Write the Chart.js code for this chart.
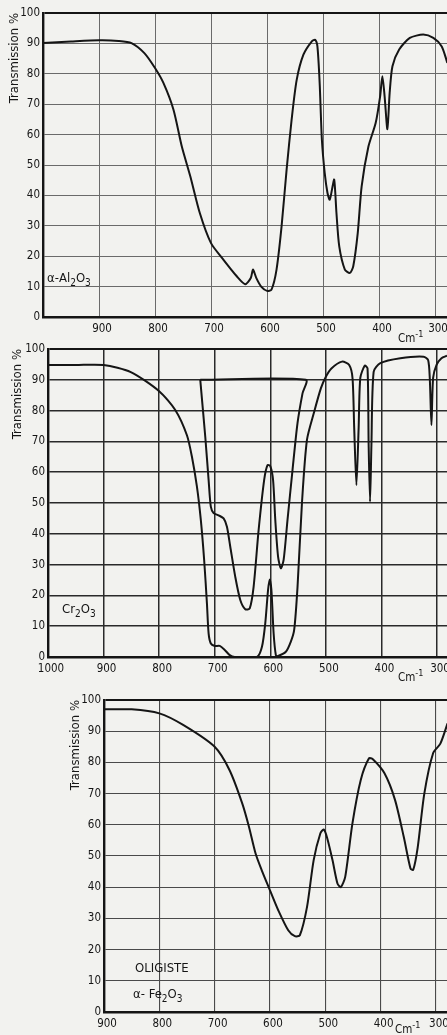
<!DOCTYPE html>
<html><head><meta charset="utf-8">
<script src="https://cdn.jsdelivr.net/npm/chart.js@4/dist/chart.umd.min.js"></script>
<style>
html,body{margin:0;padding:0;background:#f2f2ef;overflow:hidden;width:447px;height:1035px}
canvas{position:absolute;left:0}
</style></head><body>
<canvas id="c1" width="447" height="345" style="top:0px"></canvas>
<canvas id="c2" width="447" height="350" style="top:335px"></canvas>
<canvas id="c3" width="447" height="350" style="top:685px"></canvas>
<script>
// ---- alpha-Al2O3 ----
const alWave  = [1000,950,900,865,842,819,800,785,767,752,737,720,700,678,654,639,629,625,619,610,600,592,583,574,565,556,547,535,520,514,510,506,502,497,492,488,484,480,476,471,461,452,446,438,431,419,406,398,394,390,385,381,376,364,345,321,303,288,278];
const alTrans = [90.1,90.6,91,90.8,90.1,86.8,81.9,77,68.2,56,46.3,34.2,24.3,18.9,13.4,10.8,12.8,15.6,12.8,9.9,8.6,9,15.6,29.8,48.5,65,78,86.3,90.7,91.2,89,77,58.3,47.4,40.8,38.6,41.9,45.2,34.2,23.2,15.6,14.5,16.7,27.6,43,56,63.8,72.6,79.2,72.6,61.8,73.7,82.5,88,91.8,92.9,91.8,89,83.6];
// ---- Cr2O3 : outer trace ----
const crWaveA  = [1000,950,900,851,800,771,750,741,732,725,719,714,711,707,700,691,682,673,664,624,615,609,604,601,598,594,590,587,572,563,557,551,543,534,521,509,500,490,471,458,452,449,445,441,438,430,425,423,420.5,418,414,402,366,324,316,313,310,307,301,292,282];
const crTransA = [94.8,94.8,94.8,92.5,86.3,80.2,72,65,55.3,44.5,31.5,17.4,7.7,4.4,3.6,3.6,2.3,0.6,0,0,3.3,11,21.8,25.2,21.8,7.7,0.6,0.3,1.7,5,8.8,22.7,50,70.5,79.6,87.2,91,93.7,95.9,94.8,90.5,74.4,55.8,74.4,90.6,94.6,93.7,68.8,50.4,68.8,92.6,95.4,97,97.5,96.4,90.6,75.3,90.6,94.8,97,97.8];
// ---- Cr2O3 : inner trace (closed at 90 %) ----
const crWaveB  = [726,717,711,707,702,693,684,678,672,663,654,645,637,630,621,611,605,600,595,591,586,581,576,569,560,551,542,536,726];
const crTransB = [90,71.5,57.5,48.8,46.7,46,45,42.3,35.8,26,18.5,15.5,15.8,22.8,41.2,57.5,62.3,62,57.5,44.5,32.6,28.8,31.5,44.5,60.7,75.9,85.6,90,90];
// ---- alpha-Fe2O3 (oligiste) ----
const feWave  = [900,850,800,757,700,673,650,638,626,615,600,585,567,555,546,533,521,509,503,497,487,478,472,464,451,436,421,414,393,374,358,346,341,333,321,305,292,279];
const feTrans = [97,97,95.7,92,85,77.5,66.8,59.4,50.8,45.5,39,32.6,26.2,24.3,24.6,33.7,48.7,57.2,58.5,56,48.7,41.2,40,43.3,60.4,74.3,81.3,81,76.5,68,56,46,45.6,52.7,70,83,86,92.5];
// ---- ticks ----
const yTicks  = [0,10,20,30,40,50,60,70,80,90,100];
const alTicks = [900,800,700,600,500,400,300];
const crTicks = [1000,900,800,700,600,500,400,300];
const feTicks = [900,800,700,600,500,400,300];

const INK = '#151515';
const FONT = "'DejaVu Sans Condensed','DejaVu Sans',sans-serif";

const notesPlugin = {
  id: 'notes',
  afterDraw(chart, args, opts) {
    const ctx = chart.ctx;
    (opts.items || []).forEach(it => {
      let x = it.x;
      it.parts.forEach(p => {
        const [t, kind] = p;
        const size = kind ? Math.round(it.size * 0.75) : it.size;
        const dy = kind === 'sub' ? it.size * 0.3 : kind === 'sup' ? -it.size * 0.45 : 0;
        ctx.save();
        ctx.font = size + 'px ' + FONT;
        ctx.fillStyle = INK;
        ctx.textBaseline = 'alphabetic';
        ctx.fillText(t, x, it.y + dy);
        x += ctx.measureText(t).width;
        ctx.restore();
      });
    });
  }
};

function pts(xs, ys) { return xs.map((x, i) => ({x: x, y: ys[i]})); }

function makeChart(id, cfg) {
  const datasets = cfg.series.map(s => ({
    data: pts(s[0], s[1]),
    borderColor: INK, borderWidth: 2, pointRadius: 0, tension: 0.25, fill: false
  }));
  return new Chart(document.getElementById(id), {
    type: 'line',
    data: { datasets },
    plugins: [notesPlugin],
    options: {
      responsive: false, animation: false, events: [],
      layout: { padding: { top: cfg.padTop, left: cfg.padLeft, right: 0, bottom: 0 } },
      plugins: { legend: { display: false }, tooltip: { enabled: false }, notes: { items: cfg.notes } },
      scales: {
        x: {
          type: 'linear', reverse: true, min: cfg.xMin, max: cfg.xMax,
          afterBuildTicks: s => { s.ticks = cfg.xTicks.map(v => ({value: v})); },
          afterFit: s => { s.height = cfg.xAxisH; s.paddingLeft = 0; s.paddingRight = 0; },
          grid: { color: cfg.gridColor, lineWidth: cfg.gridW, drawTicks: false },
          border: { display: true, color: INK, width: 2.4 },
          ticks: { color: INK, font: { family: FONT, size: 11.5 }, padding: 5, labelOffset: 3, maxRotation: 0, autoSkip: false,
                   callback: v => String(v) }
        },
        y: {
          type: 'linear', min: 0, max: 100,
          afterBuildTicks: s => { s.ticks = yTicks.map(v => ({value: v})); },
          afterFit: s => { s.width = cfg.yAxisW; s.paddingTop = 0; s.paddingBottom = 0; },
          grid: { color: c => (c.tick && c.tick.value === 100) ? INK : cfg.gridColor,
                  lineWidth: c => (c.tick && c.tick.value === 100) ? 2 : cfg.gridW, drawTicks: false },
          border: { display: true, color: INK, width: 2.4 },
          ticks: { color: INK, font: { family: FONT, size: 11.5 }, padding: 3, callback: v => String(v) },
          title: { display: true, text: 'Transmission %', align: 'end', color: INK,
                   font: { family: FONT, size: 13 }, padding: { top: cfg.titlePad, bottom: 0 } }
        }
      }
    }
  });
}

makeChart('c1', {
  series: [[alWave, alTrans]], xMin: 278.6, xMax: 1000, xTicks: alTicks,
  padTop: 13, padLeft: 0, yAxisW: 43, xAxisH: 28, titlePad: 7,
  gridColor: '#6a6a6a', gridW: 1,
  notes: [
    { x: 47, y: 282, size: 13, parts: [['α-Al', ''], ['2', 'sub'], ['O', ''], ['3', 'sub']] },
    { x: 398, y: 342, size: 11.5, parts: [['Cm', ''], ['-1', 'sup']] }
  ]
});
makeChart('c2', {
  series: [[crWaveA, crTransA], [crWaveB, crTransB]], xMin: 282, xMax: 1000, xTicks: crTicks,
  padTop: 14, padLeft: 0, yAxisW: 48, xAxisH: 28, titlePad: 10,
  gridColor: '#2a2a2a', gridW: 1.5,
  notes: [
    { x: 62, y: 278, size: 13, parts: [['Cr', ''], ['2', 'sub'], ['O', ''], ['3', 'sub']] },
    { x: 398, y: 346, size: 11.5, parts: [['Cm', ''], ['-1', 'sup']] }
  ]
});
makeChart('c3', {
  series: [[feWave, feTrans]], xMin: 280, xMax: 900, xTicks: feTicks,
  padTop: 15, padLeft: 60, yAxisW: 44, xAxisH: 23, titlePad: 8,
  gridColor: '#4a4a4a', gridW: 1.1,
  notes: [
    { x: 135, y: 287, size: 13, parts: [['OLIGISTE', '']] },
    { x: 133, y: 313, size: 13, parts: [['α- Fe', ''], ['2', 'sub'], ['O', ''], ['3', 'sub']] },
    { x: 395, y: 348, size: 11.5, parts: [['Cm', ''], ['-1', 'sup']] }
  ]
});
</script>
</body></html>
